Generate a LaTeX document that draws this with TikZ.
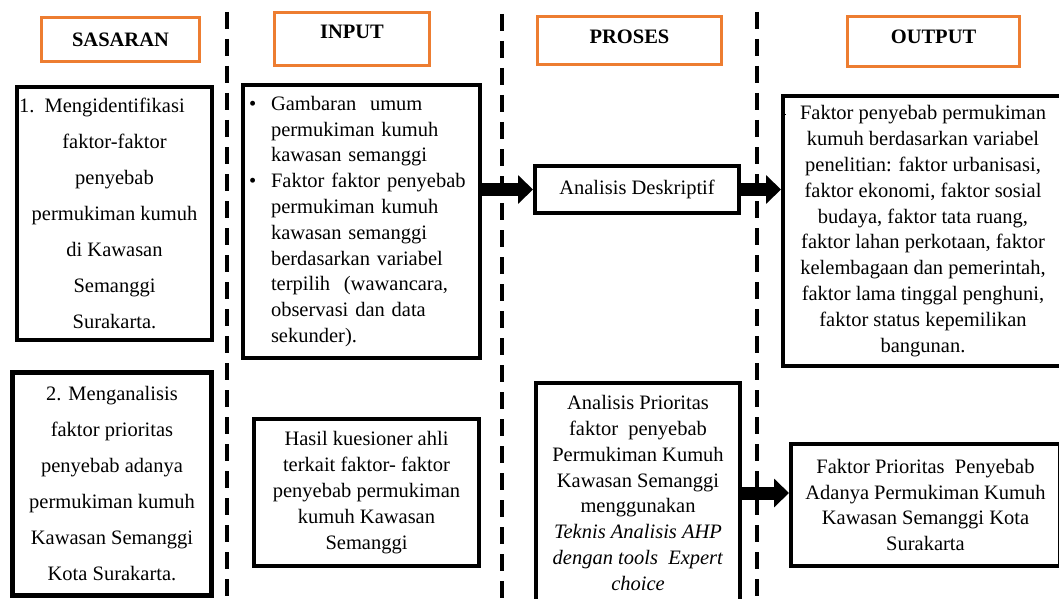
\documentclass[tikz,border=0pt]{standalone}
\usepackage{fontspec}
\setmainfont{Liberation Serif}
\usetikzlibrary{arrows.meta}
\definecolor{orange1}{HTML}{ED7D31}
\begin{document}
\begin{tikzpicture}[x=1pt,y=-1pt,
  hdr/.style={draw=orange1, line width=3pt, inner sep=0pt, font=\fontsize{20.5}{24}\selectfont\bfseries},
  box/.style={draw, line width=4pt, fill=white, inner sep=0pt, align=center, font=\fontsize{20.5}{25.8}\selectfont},
  sbox/.style={box, font=\fontsize{20.5}{36}\selectfont},
  sepline/.style={line width=4pt, dash pattern=on 17pt off 10pt},
  fat/.style={line width=13pt, -{Triangle[length=15pt,width=28pt]}}]
\useasboundingbox (0,0) rectangle (1059,599);
\clip (0,0) rectangle (1059,599);

% separators
\draw[sepline] (227,12) -- (227,605);
\draw[sepline] (502,14) -- (502,605);
\draw[sepline] (757,12) -- (757,605);

% headers
\node[hdr, minimum width=158, minimum height=44] (hs) at (120.5,39.5) {SASARAN};
\node[hdr, minimum width=155, minimum height=53, text depth=14pt] (hi) at (352,39) {INPUT};
\node[hdr, minimum width=184, minimum height=48, text depth=7pt] (hp) at (629.5,40.5) {PROSES};
\node[hdr, minimum width=172, minimum height=50, text depth=9pt] (ho) at (933.5,41.5) {OUTPUT};

% row 1
\node[sbox, minimum width=195, minimum height=253] (s1) at (114.5,213.5)
  {\makebox[191pt][l]{1.\ \ Mengidentifikasi}\\ faktor-faktor\\ penyebab\\ permukiman kumuh\\ di Kawasan\\ Semanggi\\ Surakarta.};
\node[box, minimum width=237, minimum height=273, text width=225pt, inner xsep=6pt, align=left] (in1) at (361.5,221.5)
  {\makebox[22pt][l]{\textbullet}Gambaran\ \ umum\\
   \hspace*{22pt}permukiman kumuh\\
   \hspace*{22pt}kawasan semanggi\\
   \makebox[22pt][l]{\textbullet}Faktor faktor penyebab\\
   \hspace*{22pt}permukiman kumuh\\
   \hspace*{22pt}kawasan semanggi\\
   \hspace*{22pt}berdasarkan variabel\\
   \hspace*{22pt}terpilih\ \ (wawancara,\\
   \hspace*{22pt}observasi dan data\\
   \hspace*{22pt}sekunder).};
\node[box, minimum width=204, minimum height=47] (desk) at (637,189.5) {Analisis Deskriptif};
\node[box, minimum width=280, minimum height=270] (out1) at (923,231)
  {Faktor penyebab permukiman\\ kumuh berdasarkan variabel\\ penelitian: faktor urbanisasi,\\ faktor ekonomi, faktor sosial\\ budaya, faktor tata ruang,\\ faktor lahan perkotaan, faktor\\ kelembagaan dan pemerintah,\\ faktor lama tinggal penghuni,\\ faktor status kepemilikan\\ bangunan.};
\draw[line width=0.8pt] (782,114) -- (786,114);

% row 2
\node[sbox, line width=5pt, minimum width=199, minimum height=223] (s2) at (112,484)
  {2. Menganalisis\\ faktor prioritas\\ penyebab adanya\\ permukiman kumuh\\ Kawasan Semanggi\\ Kota Surakarta.};
\node[box, minimum width=225, minimum height=147] (hasil) at (366.5,492.5)
  {Hasil kuesioner ahli\\ terkait faktor- faktor\\ penyebab permukiman\\ kumuh Kawasan\\ Semanggi};
\node[box, minimum width=204, minimum height=220] (prio) at (638,493)
  {Analisis Prioritas\\ faktor\ \ penyebab\\ Permukiman Kumuh\\ Kawasan Semanggi\\ menggunakan\\ \textit{Teknis Analisis AHP}\\ \textit{dengan tools\ \ Expert}\\ \textit{choice}};
\node[box, minimum width=269, minimum height=122] (out2) at (925.5,505)
  {Faktor Prioritas\ \ Penyebab\\ Adanya Permukiman Kumuh\\ Kawasan Semanggi Kota\\ Surakarta};

% arrows
\draw[fat] (in1.east |- desk.west) -- (desk.west);
\draw[fat] (desk.east) -- (desk.east -| out1.west);
\draw[fat] (prio.east) -- (prio.east -| out2.west);
\end{tikzpicture}
\end{document}
